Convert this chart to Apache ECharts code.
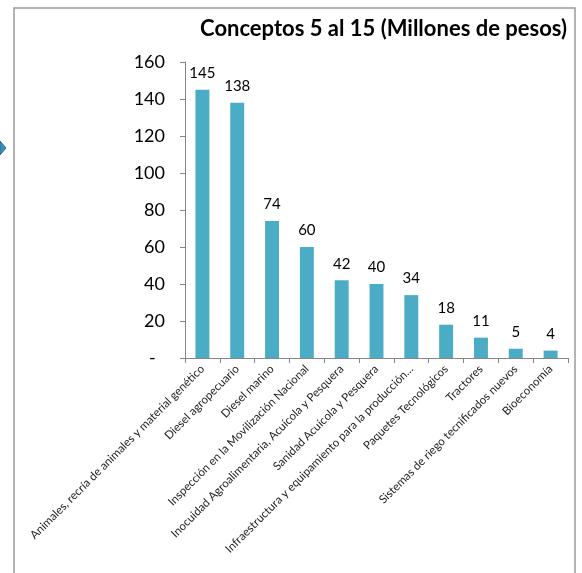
<!DOCTYPE html>
<html><head><meta charset="utf-8">
<script src="https://cdn.jsdelivr.net/npm/echarts@6/dist/echarts.min.js"></script>
<style>html,body{margin:0;padding:0;background:#fff}#c{width:582px;height:573px}</style>
</head><body><div id="c"></div>
<script>
const categories = [
  'Animales, recría de animales y material genético',
  'Diesel agropecuario',
  'Diesel marino',
  'Inspección en la Movilización Nacional',
  'Inocuidad Agroalimentaria, Acuícola y Pesquera',
  'Sanidad Acuícola y Pesquera',
  'Infraestructura y equipamiento para la producción…',
  'Paquetes Tecnológicos',
  'Tractores',
  'Sistemas de riego tecnificados nuevos',
  'Bioeconomía'
];
const values = [145, 138, 74, 60, 42, 40, 34, 18, 11, 5, 4];
const yTicks = { min: 0, max: 160, interval: 20 };
const titleText = 'Conceptos 5 al 15 (Millones de pesos)';

const chart = echarts.init(document.getElementById('c'));
const font = 'Lato, "Open Sans", sans-serif';
chart.setOption({
  animation: false,
  title: {
    text: titleText, right: 10, top: 13,
    textStyle: { fontFamily: font, fontSize: 22, fontWeight: 'bold', color: '#000' }
  },
  graphic: [
    { type: 'rect', shape: { x: 14, y: 8, width: 561, height: 600 },
      style: { fill: 'none', stroke: '#9a9a9a', lineWidth: 1.5 }, silent: true },
    { type: 'polygon', shape: { points: [[0, 141], [6, 148], [0, 155]] },
      style: { fill: '#3f8fb5', stroke: '#2c6f90', lineWidth: 1 }, silent: true }
  ],
  grid: { left: 185, right: 14, top: 62, bottom: 215, containLabel: false },
  xAxis: {
    type: 'category', data: categories,
    axisLine: { lineStyle: { color: '#868686', width: 1 } },
    axisTick: { show: true, length: 5, lineStyle: { color: '#868686' } },
    axisLabel: { rotate: 45, interval: 0, fontFamily: font, fontSize: 11.5, color: '#222', margin: 9 }
  },
  yAxis: {
    type: 'value', min: yTicks.min, max: yTicks.max, interval: yTicks.interval,
    splitLine: { show: false },
    axisLine: { show: true, lineStyle: { color: '#868686', width: 1 } },
    axisTick: { show: true, length: 5, lineStyle: { color: '#868686' } },
    axisLabel: {
      fontFamily: font, fontSize: 18, color: '#000', margin: 20,
      formatter: v => v === 0 ? '-  ' : String(v)
    }
  },
  series: [{
    type: 'bar', data: values, barWidth: '40%',
    itemStyle: { color: '#4bacc6' },
    label: { show: true, position: 'top', distance: 9, fontFamily: font, fontSize: 15, color: '#000' }
  }]
});
</script></body></html>
